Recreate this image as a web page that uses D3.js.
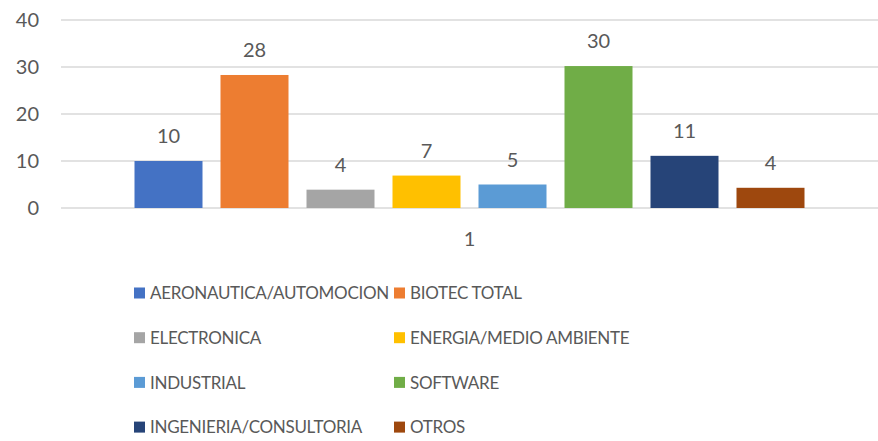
<!DOCTYPE html>
<html>
<head>
<meta charset="utf-8">
<script src="https://cdn.jsdelivr.net/npm/d3@7"></script>
<style>
  body { margin: 0; background: #fff; }
  text { font-family: Lato, "Liberation Sans", sans-serif; fill: #595959; }
  .legend text { letter-spacing: -0.3px; }
</style>
</head>
<body>
<script>
// chart data
var categories = ["1"];
var series = ["AERONAUTICA/AUTOMOCION", "BIOTEC TOTAL", "ELECTRONICA", "ENERGIA/MEDIO AMBIENTE",
              "INDUSTRIAL", "SOFTWARE", "INGENIERIA/CONSULTORIA", "OTROS"];
var values = [10.0, 28.3, 3.9, 6.9, 5.0, 30.2, 11.1, 4.3];
var labels = ["10", "28", "4", "7", "5", "30", "11", "4"];
var colors = ["#4472c4", "#ed7d31", "#a5a5a5", "#ffc000", "#5b9bd5", "#70ad47", "#264478", "#9e480e"];
var yTicks = [0, 10, 20, 30, 40];

var width = 878, height = 441;
var margin = {left: 61, right: 0, top: 20, bottom: 233};

var svg = d3.select("body").append("svg")
    .attr("width", width)
    .attr("height", height);

var y = d3.scaleLinear()
    .domain([0, 40])
    .range([height - margin.bottom, margin.top]);

// one category; outer padding leaves the bar group between x=135 and x=805
var x0 = d3.scaleBand()
    .domain(categories)
    .range([margin.left, width - margin.right])
    .paddingInner(0)
    .paddingOuter(0.1097);

var x1 = d3.scaleBand()
    .domain(series)
    .range([0, x0.bandwidth()])
    .paddingInner(18 / 86)
    .paddingOuter(0);

// gridlines
svg.append("g").selectAll("line")
    .data(yTicks)
    .enter().append("line")
    .attr("x1", margin.left)
    .attr("x2", width - margin.right)
    .attr("y1", function(d){ return y(d); })
    .attr("y2", function(d){ return y(d); })
    .attr("stroke", "#d9d9d9")
    .attr("stroke-width", 1.5);

// y axis labels
var yAxis = d3.axisLeft(y).tickValues(yTicks).tickSize(0).tickPadding(0);
var yg = svg.append("g")
    .attr("transform", "translate(39,0)")
    .call(yAxis);
yg.select(".domain").remove();
yg.selectAll("text")
    .style("font-size", "20px")
    .attr("fill", "#595959")
    .attr("font-family", null);

// bars
var group = svg.append("g")
    .attr("transform", "translate(" + x0(categories[0]) + ",0)");

group.selectAll("rect")
    .data(series)
    .enter().append("rect")
    .attr("x", function(d){ return x1(d); })
    .attr("width", x1.bandwidth())
    .attr("y", function(d, i){ return y(values[i]); })
    .attr("height", function(d, i){ return y(0) - y(values[i]); })
    .attr("fill", function(d, i){ return colors[i]; });

// value labels
group.selectAll(".val")
    .data(series)
    .enter().append("text")
    .attr("class", "val")
    .attr("x", function(d){ return x1(d) + x1.bandwidth() / 2; })
    .attr("y", function(d, i){ return y(values[i]) - 18; })
    .attr("text-anchor", "middle")
    .style("font-size", "20px")
    .text(function(d, i){ return labels[i]; });

// category axis label
var xAxis = d3.axisBottom(x0).tickSize(0).tickPadding(0);
var xg = svg.append("g")
    .attr("transform", "translate(0," + (y(0) + 24) + ")")
    .call(xAxis);
xg.select(".domain").remove();
xg.selectAll("text")
    .style("font-size", "20px")
    .attr("fill", "#595959")
    .attr("font-family", null);

// legend, two columns
var legend = svg.append("g").attr("class", "legend");
var item = legend.selectAll(".item")
    .data(series)
    .enter().append("g")
    .attr("class", "item")
    .attr("transform", function(d, i){
        var col = i % 2, row = Math.floor(i / 2);
        return "translate(" + (134 + col * 260) + "," + (293 + row * 44.7) + ")";
    });

item.append("rect")
    .attr("x", 0)
    .attr("y", -5.5)
    .attr("width", 11)
    .attr("height", 11)
    .attr("fill", function(d, i){ return colors[i]; });

item.append("text")
    .attr("x", 16)
    .attr("dy", "0.36em")
    .style("font-size", "17px")
    .text(function(d){ return d; });
</script>
</body>
</html>
